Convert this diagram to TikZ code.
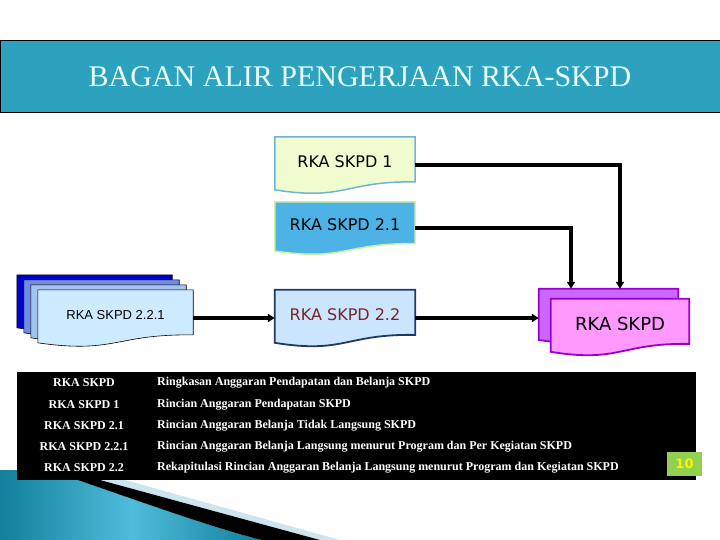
\documentclass[tikz,border=0pt]{standalone}
\usepackage{fontspec}
\setmainfont{Liberation Serif}
\newfontfamily\boxfont{DejaVu Sans}
\newfontfamily\tahfont{Liberation Sans}
\usepackage{tikz}
\usetikzlibrary{arrows.meta, calc, backgrounds}
\definecolor{titlecolor}{RGB}{44,162,191}
\definecolor{titletext}{RGB}{232,255,255}
\definecolor{skone}{RGB}{238,252,208}
\definecolor{skoneline}{RGB}{110,180,215}
\definecolor{sktwoone}{RGB}{77,179,230}
\definecolor{sktwooneline}{RGB}{204,240,160}
\definecolor{sktwotwo}{RGB}{204,229,255}
\definecolor{sktwotwoline}{RGB}{31,56,100}
\definecolor{sktwotwotext}{RGB}{120,36,36}
\definecolor{stackA}{RGB}{0,0,204}
\definecolor{stackB}{RGB}{110,140,225}
\definecolor{stackC}{RGB}{160,195,240}
\definecolor{stackD}{RGB}{206,234,255}
\definecolor{rkaback}{RGB}{204,102,255}
\definecolor{rkafront}{RGB}{255,153,255}
\definecolor{rkaline}{RGB}{153,0,204}
\definecolor{pagecolor}{RGB}{146,208,80}
\definecolor{swooshA}{RGB}{16,128,156}
\definecolor{swooshB}{RGB}{80,188,219}
\definecolor{swooshC}{RGB}{205,230,238}
\tikzstyle{arrow} = [-{Triangle[length=7pt,width=8pt]}, line width=3.4pt]
\tikzstyle{docbox} = [minimum width=140pt, minimum height=56pt, inner sep=0pt, text depth=6pt]
\tikzstyle{legendtext} = [text=white, inner sep=0pt, font=\bfseries\fontsize{12}{14}\selectfont]

% document outline of a node, drawn behind it
\newcommand{\docpath}[2]{%
  \begin{pgfonlayer}{background}
  \path[#2] (#1.north west) -- (#1.north east) -- ($(#1.north east)!0.8!(#1.south east)$)
    .. controls ($(#1.north)!0.78!(#1.south)$) and ($(#1.north)!1.14!(#1.south)$) .. ($(#1.north west)!0.94!(#1.south west)$) -- cycle;
  \end{pgfonlayer}}

\begin{document}
\begin{tikzpicture}[x=1pt, y=-1pt]
    \useasboundingbox (0,0) rectangle (720,540);

    % Title bar
    \draw[fill=titlecolor, draw=black] (0.5,40) rectangle (725,112);
    \node[font=\fontsize{30}{36}\selectfont, text=titletext] (title) at (360,77) {BAGAN ALIR PENGERJAAN RKA-SKPD};

    % Corner swoosh
    \shade[left color=swooshA, right color=swooshA, middle color=swooshB] (0,470) -- (80,470) -- (80,480) .. controls (150,505) and (220,530) .. (262,540) -- (0,540) -- cycle;
    \fill[swooshC] (100,480) -- (125,480) -- (340,540) -- (320,540) -- cycle;
    \fill[black] (78,480) -- (100,480) -- (320,540) -- (262,540) .. controls (220,530) and (150,505) .. (78,480) -- cycle;

    % Input sheets
    \node[docbox, font=\boxfont\fontsize{16}{19}\selectfont] (sk1) at (345,165) {RKA SKPD 1};
    \docpath{sk1}{fill=skone, draw=skoneline, line width=1.5pt}
    \node[docbox, minimum height=52pt, font=\boxfont\fontsize{16}{19}\selectfont] (sk21) at (345,228) {RKA SKPD 2.1};
    \docpath{sk21}{fill=sktwoone, draw=sktwooneline, line width=1.5pt}
    \node[docbox, text=sktwotwotext, font=\boxfont\fontsize{16}{19}\selectfont] (sk22) at (345,318) {RKA SKPD 2.2};
    \docpath{sk22}{fill=sktwotwo, draw=sktwotwoline, line width=1.8pt}

    % Stacked sheets
    \foreach \c [count=\k from 0] in {stackA,stackB,stackC} {
        \node[docbox, minimum width=155pt] (stack\k) at ({94.5+7*\k},{303+5*\k}) {};
        \docpath{stack\k}{fill=\c, draw=black, line width=0.6pt}
    }
    \node[docbox, minimum width=155pt, font=\tahfont\fontsize{13}{16}\selectfont] (sk221) at (115.5,318) {RKA SKPD 2.2.1};
    \docpath{sk221}{fill=stackD, draw=black, line width=0.6pt}

    % Summary sheet
    \node[docbox, minimum width=139pt, minimum height=54pt] (rka) at (608.5,316) {};
    \docpath{rka}{fill=rkaback, draw=rkaline, line width=1.8pt}
    \node[docbox, minimum width=138pt, font=\boxfont\fontsize{18}{22}\selectfont] (rkatop) at (620,327) {RKA SKPD};
    \docpath{rkatop}{fill=rkafront, draw=rkaline, line width=1.8pt}

    \draw[arrow] (sk1.east) -| ([xshift=11.5pt]rka.north);
    \draw[arrow] (sk21.east) -| ([xshift=-37.5pt]rka.north);
    \draw[arrow] (sk221.east) -- (sk22.west);
    \draw[arrow] (sk22.east) -- (sk22.east -| rka.west);

    % Legend
    \node[fill=black, minimum width=679pt, minimum height=108pt, inner sep=0pt, anchor=north west] (legend) at (17,372) {};
    \foreach \code/\desc [count=\i from 0] in {RKA SKPD/Ringkasan Anggaran Pendapatan dan Belanja SKPD,
        RKA SKPD 1/Rincian Anggaran Pendapatan SKPD,
        RKA SKPD 2.1/Rincian Anggaran Belanja Tidak Langsung SKPD,
        RKA SKPD 2.2.1/Rincian Anggaran Belanja Langsung menurut Program dan Per Kegiatan SKPD,
        RKA SKPD 2.2/Rekapitulasi Rincian Anggaran Belanja Langsung menurut Program dan Kegiatan SKPD} {
        \node[legendtext] (code\i) at (84,{383+21.25*\i}) {\code};
        \node[legendtext, anchor=west] (desc\i) at (157,{383+21.25*\i}) {\desc};
    }

    % Page number
    \node[fill=pagecolor, minimum width=35pt, minimum height=24pt, inner sep=0pt, text=yellow, font=\boxfont\bfseries\fontsize{13}{15}\selectfont] (page) at (684.5,464) {10};
\end{tikzpicture}
\end{document}
